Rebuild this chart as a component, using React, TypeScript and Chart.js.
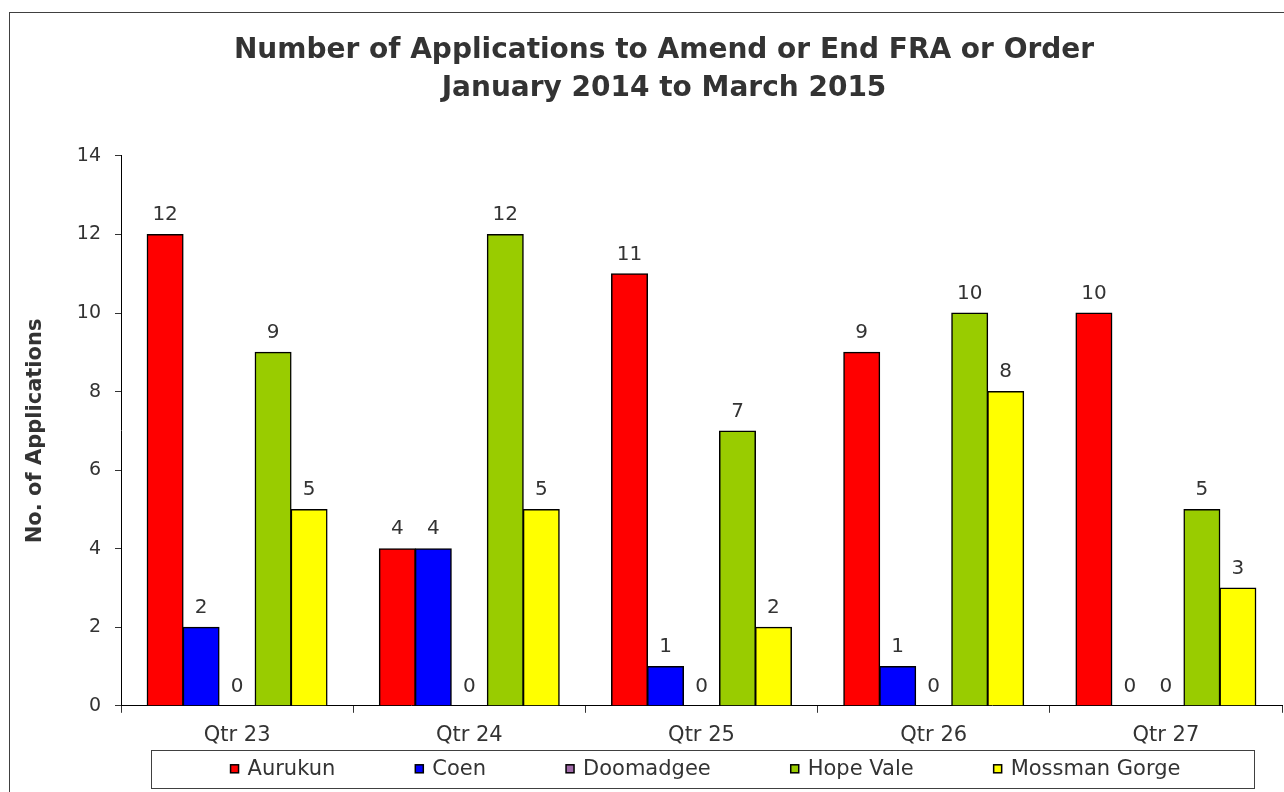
import React, { useEffect, useRef } from "react";
import { Chart, registerables } from "chart.js";

Chart.register(...registerables);

const categories = ["Qtr 23", "Qtr 24", "Qtr 25", "Qtr 26", "Qtr 27"];
const aurukun = [12, 4, 11, 9, 10];
const coen = [2, 4, 1, 1, 0];
const doomadgee = [0, 0, 0, 0, 0];
const hopeVale = [9, 12, 7, 10, 5];
const mossmanGorge = [5, 5, 2, 8, 3];
const titleLines = ["Number of Applications to Amend or End FRA or Order", "January 2014 to March 2015"];
const yTitle = "No. of Applications";
const yMax = 14;
const yStep = 2;

const FONT = "'DejaVu Sans', Verdana, sans-serif";
const TEXT = "#333333";

const dataLabelPlugin = {
  id: "dataLabels",
  afterDatasetsDraw(chart: any) {
    const ctx = chart.ctx;
    ctx.save();
    ctx.font = `20px ${FONT}`;
    ctx.fillStyle = TEXT;
    ctx.textAlign = "center";
    ctx.textBaseline = "middle";
    chart.data.datasets.forEach((ds: any, di: number) => {
      const meta = chart.getDatasetMeta(di);
      if (meta.hidden) return;
      meta.data.forEach((bar: any, i: number) => {
        ctx.fillText(String(ds.data[i]), bar.x, bar.y - 19.5);
      });
    });
    ctx.restore();
  },
};

// Legend drawn in a boxed single row below the category axis
const boxedLegendPlugin = {
  id: "boxedLegend",
  afterDraw(chart: any) {
    const ctx = chart.ctx;
    const area = chart.chartArea;
    const box = 8;
    const gap = 9;
    const itemPad = 80;
    ctx.save();
    ctx.font = `21px ${FONT}`;
    const items = chart.data.datasets.map((ds: any) => ({
      text: ds.label,
      fill: ds.backgroundColor,
      stroke: ds.borderColor,
      w: box + gap + ctx.measureText(ds.label).width,
    }));
    const total = items.reduce((s: number, it: any) => s + it.w, 0) + itemPad * (items.length - 1);
    const cx = (area.left + area.right) / 2 + 4;
    const cy = area.bottom + 63;
    let x = cx - total / 2;
    const startX = x;
    items.forEach((it: any) => {
      ctx.fillStyle = it.fill;
      ctx.fillRect(x, cy - box / 2, box, box);
      ctx.strokeStyle = it.stroke;
      ctx.lineWidth = 1.5;
      ctx.strokeRect(x, cy - box / 2, box, box);
      ctx.fillStyle = TEXT;
      ctx.textAlign = "left";
      ctx.textBaseline = "middle";
      ctx.fillText(it.text, x + box + gap, cy + 1);
      x += it.w + itemPad;
    });
    const endX = x - itemPad;
    ctx.strokeStyle = "#404040";
    ctx.lineWidth = 1;
    ctx.strokeRect(Math.round(startX - 80) + 0.5, Math.round(cy - 19) + 0.5, Math.round(endX - startX + 153), 38);
    ctx.restore();
  },
};

export default function App() {
  const ref = useRef<HTMLCanvasElement>(null);
  useEffect(() => {
    if (!ref.current) return;
    const mk = (label: string, data: number[], color: string) => ({
      label,
      data,
      backgroundColor: color,
      borderColor: "#000000",
      borderWidth: 1.5,
      inflateAmount: 0.5,
      categoryPercentage: 0.775,
      barPercentage: 1.0,
    });
    const chart = new Chart(ref.current, {
      type: "bar",
      data: {
        labels: categories,
        datasets: [
          mk("Aurukun", aurukun, "#FF0000"),
          mk("Coen", coen, "#0000FF"),
          mk("Doomadgee", doomadgee, "#A06AA8"),
          mk("Hope Vale", hopeVale, "#99CC00"),
          mk("Mossman Gorge", mossmanGorge, "#FFFF00"),
        ],
      },
      options: {
        animation: false,
        responsive: true,
        maintainAspectRatio: false,
        layout: { padding: { left: 0, right: 0, top: 0, bottom: 35 } },
        plugins: {
          title: {
            display: true,
            text: titleLines,
            color: TEXT,
            font: { family: FONT, size: 28, weight: "bold", lineHeight: 1.357 },
            padding: { top: 19, bottom: 48 },
          },
          legend: { display: false },
          tooltip: { enabled: false },
        },
        scales: {
          x: {
            grid: { display: true, drawOnChartArea: false, offset: true, tickLength: 7, color: "#333333" },
            border: { display: true, color: "#000000", width: 1 },
            ticks: { color: TEXT, font: { family: FONT, size: 21 }, padding: 10 },
          },
          y: {
            min: 0,
            max: yMax,
            afterFit(scale: any) {
              scale.width = 111;
            },
            grid: { display: true, drawOnChartArea: false, tickLength: 6, color: "#333333" },
            border: { display: true, color: "#000000", width: 1 },
            ticks: { stepSize: yStep, color: TEXT, font: { family: FONT, size: 19 }, padding: 14 },
            title: {
              display: true,
              text: yTitle,
              color: TEXT,
              font: { family: FONT, size: 21, weight: "bold" },
              padding: { top: 13, bottom: 0 },
            },
          },
          // empty spacer on the right so the plot ends before the frame edge
          spacer: {
            type: "linear",
            position: "right",
            display: true,
            afterFit(scale: any) {
              scale.width = 36;
            },
            grid: { display: false, drawOnChartArea: false },
            border: { display: false },
            ticks: { display: false },
          },
        },
      },
      plugins: [dataLabelPlugin, boxedLegendPlugin],
    });
    return () => chart.destroy();
  }, []);
  return (
    <div
      style={{
        position: "fixed",
        left: 9,
        top: 12,
        width: 1320,
        height: 800,
        border: "1px solid #404040",
        background: "#ffffff",
      }}
    >
      <div style={{ position: "relative", width: 1308, height: 780 }}>
        <canvas ref={ref} />
      </div>
    </div>
  );
}
